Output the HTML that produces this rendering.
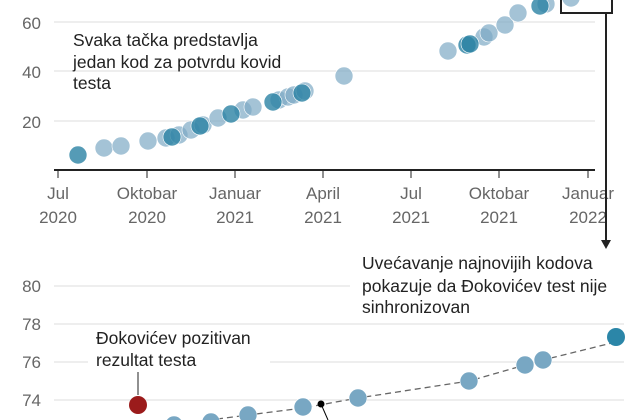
<!DOCTYPE html>
<html><head><meta charset="utf-8"><style>
html,body{margin:0;padding:0;background:#fff;}
svg{display:block;font-family:"Liberation Sans",sans-serif;}
.tk{fill:#666;font-size:17px;}
.lb{fill:#222;font-size:17.5px;}
</style></head><body>
<svg width="641" height="420" viewBox="0 0 641 420">
<g stroke="#ddd" stroke-width="1">
<line x1="54" y1="22" x2="595" y2="22"/><line x1="54" y1="71" x2="595" y2="71"/><line x1="54" y1="121" x2="595" y2="121"/>
</g>
<g class="tk" text-anchor="end"><text x="41" y="29">60</text><text x="41" y="78">40</text><text x="41" y="128">20</text></g>
<line x1="54" y1="170" x2="595" y2="170" stroke="#222" stroke-width="2"/>
<g stroke="#222" stroke-width="1"><line x1="58" y1="170" x2="58" y2="178"/><line x1="147" y1="170" x2="147" y2="178"/><line x1="235" y1="170" x2="235" y2="178"/><line x1="323" y1="170" x2="323" y2="178"/><line x1="411" y1="170" x2="411" y2="178"/><line x1="499" y1="170" x2="499" y2="178"/><line x1="588" y1="170" x2="588" y2="178"/></g>
<g class="tk" text-anchor="middle">
<text x="58" y="199">Jul</text><text x="58" y="223">2020</text>
<text x="147" y="199">Oktobar</text><text x="147" y="223">2020</text>
<text x="235" y="199">Januar</text><text x="235" y="223">2021</text>
<text x="323" y="199">April</text><text x="323" y="223">2021</text>
<text x="411" y="199">Jul</text><text x="411" y="223">2021</text>
<text x="499" y="199">Oktobar</text><text x="499" y="223">2021</text>
<text x="588" y="199">Januar</text><text x="588" y="223">2022</text>
</g>
<g fill="#7eaac4" fill-opacity="0.7" stroke="#fff" stroke-width="0.6">
<circle cx="104" cy="148" r="9"/><circle cx="121" cy="146" r="9"/><circle cx="148" cy="141" r="9"/><circle cx="166" cy="138" r="9"/><circle cx="179" cy="135" r="9"/><circle cx="191" cy="130" r="9"/><circle cx="203" cy="125" r="9"/><circle cx="218" cy="118" r="9"/><circle cx="243" cy="110" r="9"/><circle cx="253" cy="107" r="9"/><circle cx="279" cy="100" r="9"/><circle cx="288" cy="97" r="9"/><circle cx="294" cy="95" r="9"/><circle cx="305" cy="91" r="9"/><circle cx="344" cy="76" r="9"/><circle cx="448" cy="51" r="9"/><circle cx="484" cy="37" r="9"/><circle cx="489" cy="33" r="9"/><circle cx="505" cy="25" r="9"/><circle cx="518" cy="13" r="9"/><circle cx="546" cy="4" r="9"/><circle cx="571" cy="-2" r="9"/>
</g>
<g fill="#2a82a4" fill-opacity="0.8" stroke="#fff" stroke-width="0.6">
<circle cx="78" cy="155" r="9"/><circle cx="172" cy="137" r="9"/><circle cx="200" cy="126" r="9"/><circle cx="231" cy="114" r="9"/><circle cx="273" cy="102" r="9"/><circle cx="302" cy="93" r="9"/><circle cx="467" cy="45" r="9"/><circle cx="470" cy="44" r="9"/><circle cx="540" cy="6" r="9"/>
</g>
<g class="lb"><text x="73" y="46">Svaka tačka predstavlja</text><text x="73" y="68">jedan kod za potvrdu kovid</text><text x="73" y="89">testa</text></g>
<rect x="561" y="-5" width="51" height="18" fill="none" stroke="#222" stroke-width="2"/>
<line x1="606" y1="13" x2="606" y2="240" stroke="#222" stroke-width="2"/>
<polygon points="601,240 611,240 606,249" fill="#222"/>
<g stroke="#ddd" stroke-width="1">
<line x1="54" y1="286" x2="350" y2="286"/><line x1="54" y1="324" x2="624" y2="324"/><line x1="54" y1="362" x2="88" y2="362"/><line x1="221" y1="362" x2="624" y2="362"/><line x1="54" y1="400" x2="624" y2="400"/>
</g>
<g class="tk" text-anchor="end"><text x="41" y="292">80</text><text x="41" y="330">78</text><text x="41" y="368">76</text><text x="41" y="406">74</text></g>
<polyline points="217,419 303,408 358,398 469,381 525,365 543,360 624,340" fill="none" stroke="#666" stroke-width="1.3" stroke-dasharray="6,4"/>
<g fill="#78a7c3" stroke="#fff" stroke-width="0.6">
<circle cx="174" cy="425" r="9"/><circle cx="211" cy="422" r="9"/><circle cx="248" cy="415" r="9"/><circle cx="303" cy="407" r="9"/><circle cx="358" cy="398" r="9"/><circle cx="469" cy="381" r="9"/><circle cx="525" cy="365" r="9"/><circle cx="543" cy="360" r="9"/>
</g>
<circle cx="616" cy="337" r="9" fill="#2b86a8"/>
<circle cx="138" cy="405" r="9" fill="#9b1b1b"/>
<line x1="138" y1="372" x2="138" y2="395" stroke="#222" stroke-width="1"/>
<circle cx="321" cy="404" r="3.5" fill="#000"/>
<line x1="321" y1="404" x2="328" y2="420" stroke="#000" stroke-width="1"/>
<rect x="90" y="324.5" width="180" height="44" fill="#fff"/>
<g class="lb"><text x="96" y="344">Đokovićev pozitivan</text><text x="96" y="366">rezultat testa</text></g>
<g class="lb"><text x="362" y="269">Uvećavanje najnovijih kodova</text><text x="362" y="292">pokazuje da Đokovićev test nije</text><text x="362" y="313">sinhronizovan</text></g>
</svg>
</body></html>
